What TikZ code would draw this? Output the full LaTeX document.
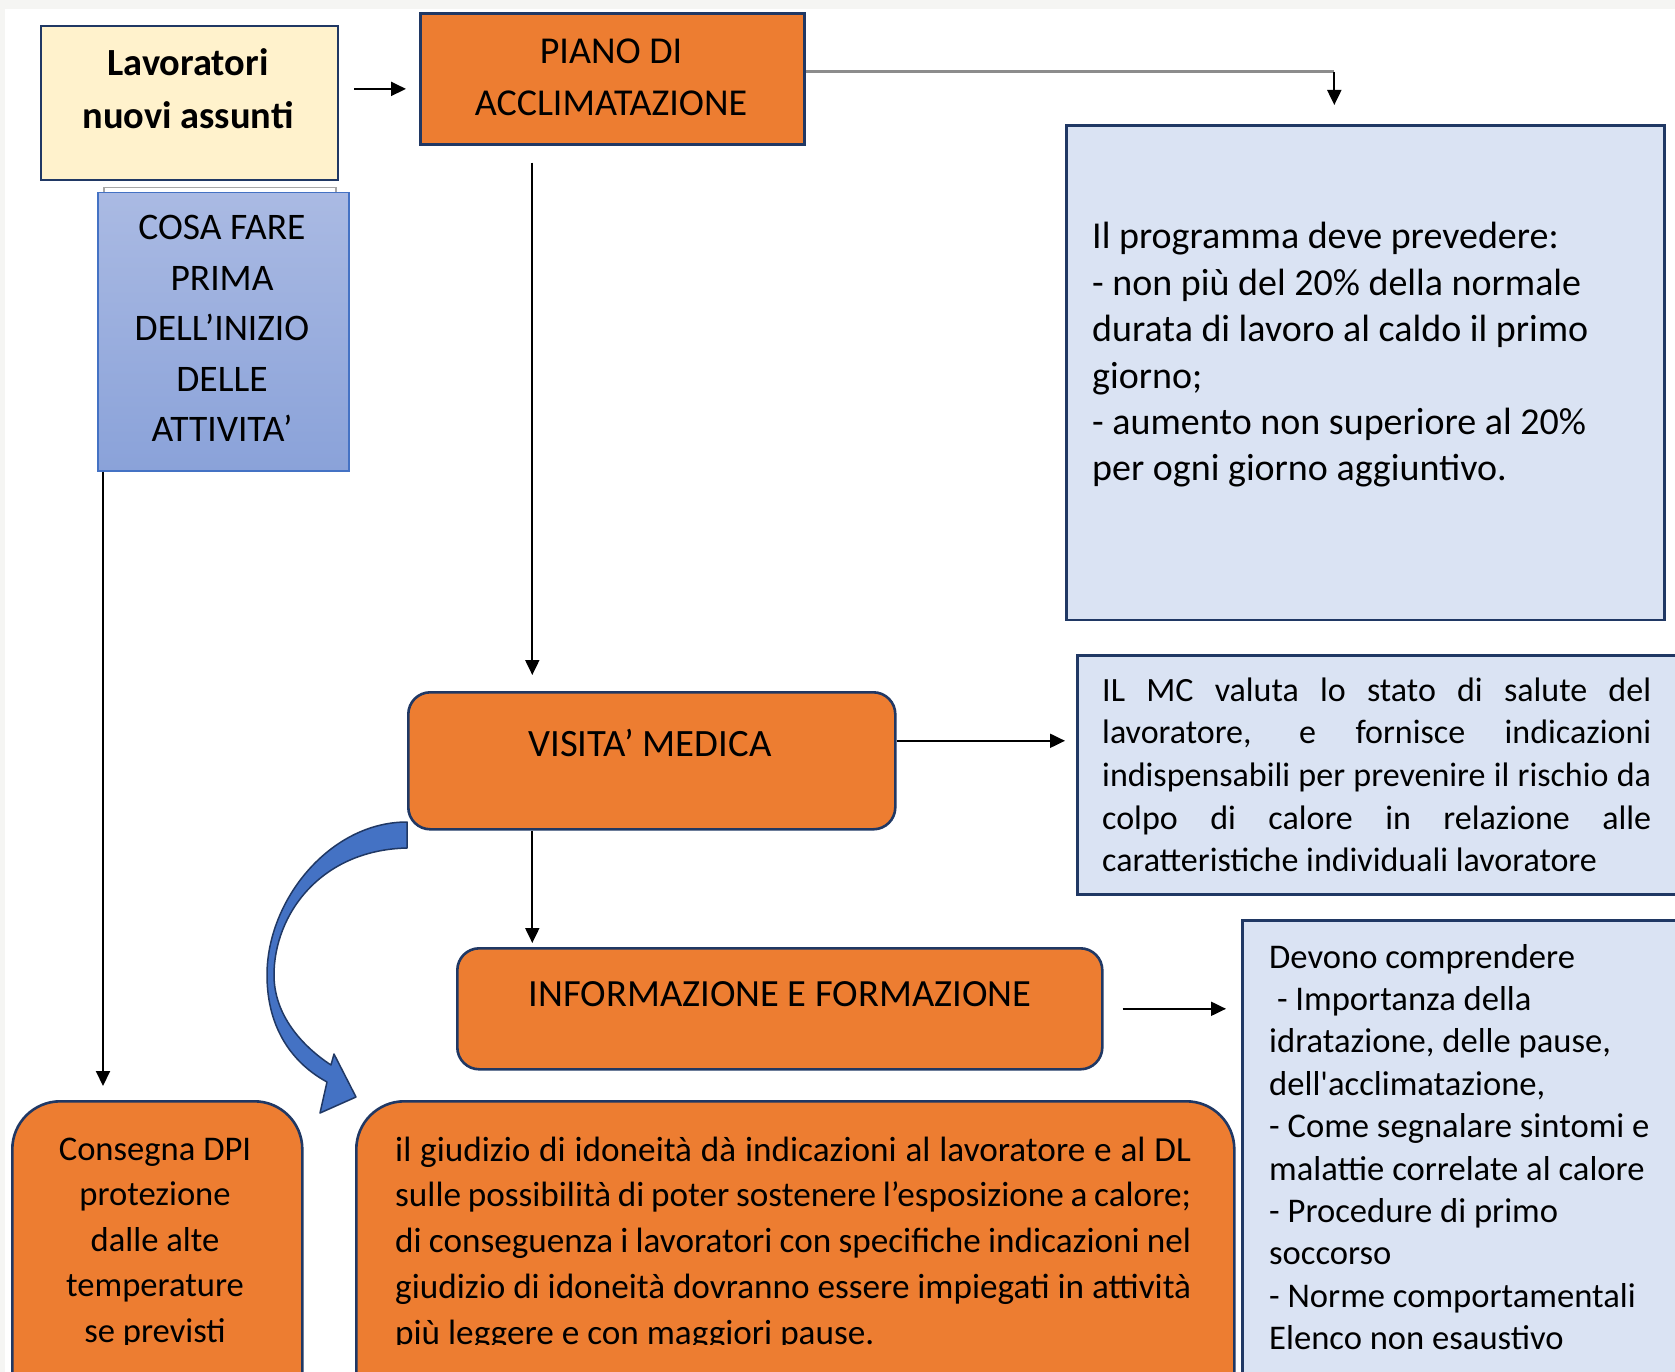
\documentclass[tikz,border=0pt]{standalone}
\usepackage{fontspec}
\setmainfont{Carlito}[Ligatures=TeXOff]
\usetikzlibrary{positioning,arrows.meta,calc}
\definecolor{navy}{HTML}{203864}
\definecolor{accorange}{HTML}{ED7D31}
\definecolor{cream}{HTML}{FFF2CC}
\definecolor{notefill}{HTML}{DAE3F3}
\definecolor{cosatop}{HTML}{AABAE3}
\definecolor{cosabot}{HTML}{8AA2D9}
\definecolor{cosaedge}{HTML}{4472C4}
\definecolor{bendblue}{HTML}{4472C4}
\definecolor{pagegray}{HTML}{F5F5F3}
% word spaces: stretchable for justified lines, fixed for the others
\newcommand{\natsp}{\spaceskip=0pt\xspaceskip=0pt\relax}
\newcommand{\fixsp}{\spaceskip=\fontdimen2\font\xspaceskip=\fontdimen2\font\relax}
\tikzset{
  box/.style={rectangle,draw=navy,line width=2.6pt,inner sep=0pt,anchor=north west},
  creambox/.style={box,fill=cream},
  orangebox/.style={box,fill=accorange},
  roundbox/.style={orangebox,rounded corners=22pt},
  bigroundbox/.style={orangebox,rounded corners=48pt},
  notebox/.style={box,fill=notefill},
  cosabox/.style={rectangle,draw=cosaedge,line width=1.5pt,top color=cosatop,bottom color=cosabot,
    inner sep=0pt,anchor=north west},
  txtl/.style={inner sep=0pt,anchor=base west,align=left},
  txtc/.style={inner sep=0pt,anchor=base,align=center},
  flow/.style={-{Triangle[length=15pt,width=14pt]},line width=2pt},
  link/.style={line width=3pt,draw=gray!90},
  bendarrow/.style={fill=bendblue,draw=navy,line width=1.5pt,line join=round},
}

\begin{document}
\begin{tikzpicture}[x=1pt,y=-1pt]
  \useasboundingbox (0,0) rectangle (1675,1372);
  \clip (0,0) rectangle (1675,1372);
  \fill[pagegray] (0,0) rectangle (1675,1372);
  \fill[white] (5,9) rectangle (1675,1372);
  % top row
  \node[creambox,minimum width=297pt,minimum height=154pt] (lav) at (39.5,24.6) {};
  \node[txtc,text width=290pt,font=\bfseries\fontsize{38.4}{52.5}\selectfont] (lavtxt) at (188,76)
    {\fixsp Lavoratori\\nuovi assunti};
  \node[orangebox,minimum width=384pt,minimum height=131pt] (piano) at (419,12) {};
  \node[txtc,text width=380pt,font=\fontsize{38}{52.5}\selectfont] (pianotxt) at (611,63.5)
    {\fixsp PIANO DI\\ACCLIMATAZIONE};
  % before starting
  \node[rectangle,draw=gray!70,line width=1.5pt,inner sep=0pt,anchor=north west,
    minimum width=232pt,minimum height=283pt] (cosabg) at (103,187) {};
  \node[cosabox,minimum width=251pt,minimum height=278pt] (cosa) at (97,192) {};
  \node[txtc,text width=245pt,font=\fontsize{37.5}{50.5}\selectfont] (cosatxt) at (222,240)
    {\fixsp COSA FARE\\PRIMA\\DELL’INIZIO\\DELLE\\ATTIVITA’};
  % programme
  \node[notebox,minimum width=598pt,minimum height=494.5pt] (prog) at (1065,124) {};
  \node[txtl,text width=560pt,font=\fontsize{38}{46.4}\selectfont] (progtxt) at (1092,249)
    {\fixsp Il programma deve prevedere:\\- non più del 20\% della normale\\durata di lavoro al caldo il primo\\
     giorno;\\- aumento non superiore al 20\%\\per ogni giorno aggiuntivo.};
  % curved arrow
  \filldraw[bendarrow] (407,822) .. controls (330,822) and (267,900) .. (267,975)
    .. controls (267,1030) and (294,1064) .. (327,1082)
    -- (320,1113) -- (356,1097) -- (334,1054) -- (331,1065)
    .. controls (302,1046) and (274,1015) .. (274,975)
    .. controls (274,915) and (320,850) .. (407,848) -- cycle;
  % medical visit
  \node[roundbox,minimum width=487pt,minimum height=137pt] (visita) at (407,691) {};
  \node[txtc,font=\fontsize{38.7}{44}\selectfont] (visitatxt) at (650,756.5) {\fixsp VISITA’ MEDICA};
  \node[notebox,minimum width=620pt,minimum height=239pt] (mc) at (1076,654) {};
  \node[txtl,text width=549pt,font=\fontsize{34}{42.7}\selectfont] (mctxt) at (1102,701)
    {\natsp\makebox[549pt][s]{IL MC valuta lo stato di salute del}\\
     \makebox[549pt][s]{lavoratore, e fornisce indicazioni}\\
     \makebox[549pt][s]{indispensabili per prevenire il rischio da}\\
     \makebox[549pt][s]{colpo di calore in relazione alle}\\
     caratteristiche individuali lavoratore};
  % training
  \node[roundbox,minimum width=645pt,minimum height=121pt] (info) at (456,947) {};
  \node[txtc,font=\fontsize{38.5}{44}\selectfont] (infotxt) at (780,1006) {\fixsp INFORMAZIONE E FORMAZIONE};
  \node[notebox,minimum width=450pt,minimum height=480pt] (dev) at (1241,919) {};
  \node[txtl,text width=400pt,font=\fontsize{34.6}{42.4}\selectfont] (devtxt) at (1269,968)
    {\fixsp Devono comprendere\\\ - Importanza della\\idratazione, delle pause,\\dell'acclimatazione,\\
     - Come segnalare sintomi e\\malattie correlate al calore\\- Procedure di primo\\soccorso\\
     - Norme comportamentali\\Elenco non esaustivo};
  % bottom row
  \node[bigroundbox,minimum width=290pt,minimum height=330pt] (dpi) at (11,1100) {};
  \node[bigroundbox,minimum width=878pt,minimum height=330pt] (giud) at (355,1100) {};
  \begin{scope}
    \clip (0,0) rectangle (1675,1344);
    \node[txtc,text width=280pt,font=\fontsize{34.6}{45.6}\selectfont] (dpitxt) at (155,1160)
      {\fixsp Consegna DPI\\protezione\\dalle alte\\temperature\\se previsti};
    \node[txtl,text width=796pt,font=\fontsize{35.2}{45.8}\selectfont] (giudtxt) at (395,1161)
      {\natsp\makebox[796pt][s]{il giudizio di idoneità dà indicazioni al lavoratore e al DL}\\
       \makebox[796pt][s]{sulle possibilità di poter sostenere l’esposizione a calore;}\\
       \makebox[796pt][s]{di conseguenza i lavoratori con specifiche indicazioni nel}\\
       \makebox[796pt][s]{giudizio di idoneità dovranno essere impiegati in attività}\\
       più leggere e con maggiori pause.};
  \end{scope}
  % connectors
  \coordinate (ls) at ([yshift=14pt]lav.east);
  \draw[flow,shorten <=15pt,shorten >=13pt] (ls) -- (ls -| piano.west);
  \coordinate (ps) at ([yshift=7pt]piano.east);
  \coordinate (pk) at ($(prog.north)+(-31,0)$);
  \draw[link] (ps) -- (ps -| pk);
  \draw[flow,shorten >=19pt] (ps -| pk) -- (pk);
  \coordinate (pv) at ($(piano.south)+(-80,0)$);
  \draw[flow,shorten <=17pt,shorten >=16pt] (pv) -- (pv |- visita.north);
  \coordinate (vm) at ([yshift=20pt]visita.east);
  \draw[flow,shorten >=11pt] (vm) -- (vm -| mc.west);
  \draw[flow,shorten >=4pt] (pv |- visita.south) -- (pv |- info.north);
  \draw[flow,shorten <=19pt,shorten >=15pt] (info.east) -- (info.east -| dev.west);
  \draw[flow,shorten >=14pt] (cosabg.south west) -- (cosabg.south west |- dpi.north);
\end{tikzpicture}
\end{document}
